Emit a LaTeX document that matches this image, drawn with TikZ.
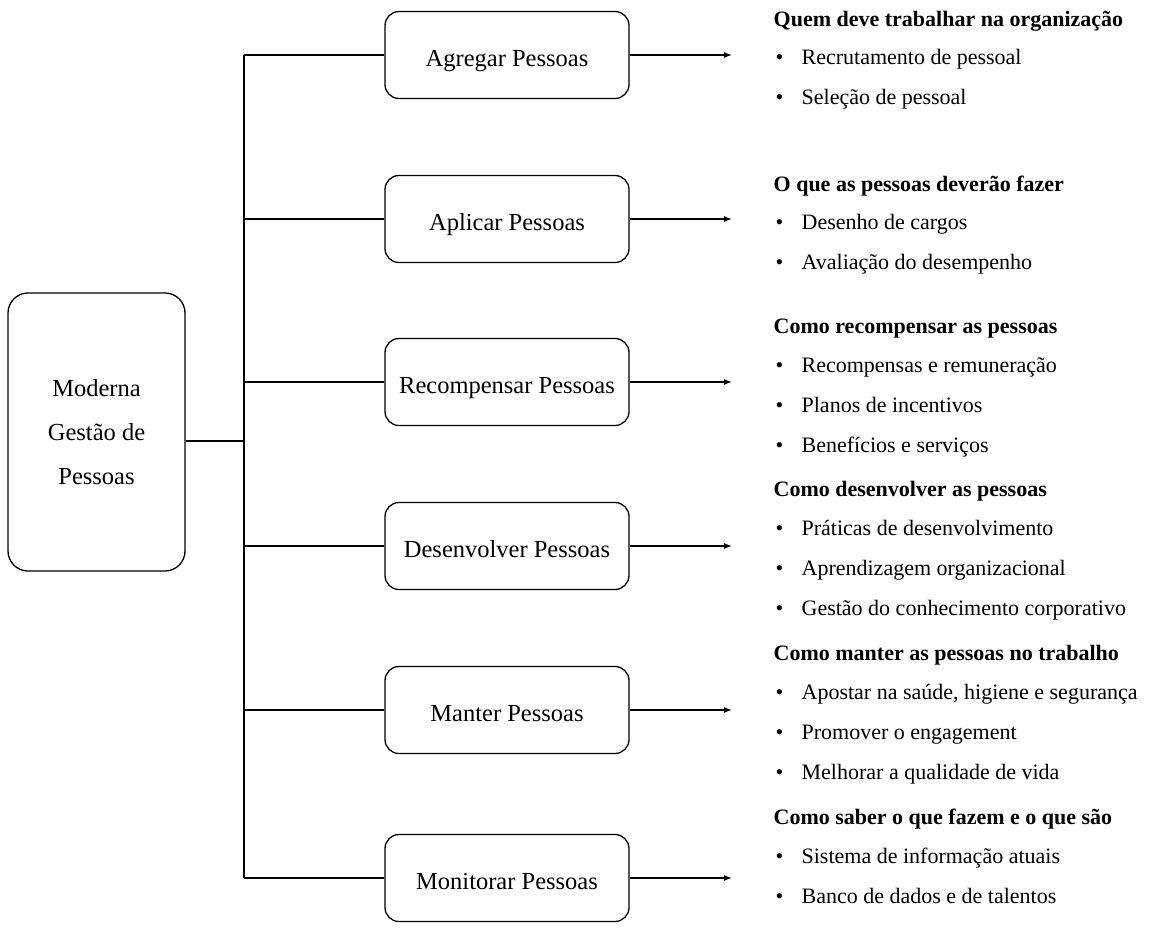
\documentclass[tikz,border=0pt]{standalone}
\usepackage{fontspec}
\setmainfont{Liberation Serif}
\usetikzlibrary{arrows.meta}
\begin{document}
\begin{tikzpicture}[x=1pt, y=-1pt, >={Latex[length=8pt,width=6pt]}, line width=1.3pt, line join=round,
	bigbox/.style={draw, rounded corners=20pt, minimum width=177pt, minimum height=278pt, align=center, text depth=0pt, font=\fontsize{24.5}{44}\selectfont},
	areabox/.style={draw, rounded corners=14pt, minimum width=244pt, minimum height=87pt, text height=23pt, text depth=0pt, font=\fontsize{24.5}{28}\selectfont},
	head/.style={anchor=base west, inner sep=0pt, font=\fontsize{22}{26}\selectfont\bfseries},
	item/.style={anchor=base west, inner sep=0pt, font=\fontsize{22}{26}\selectfont, execute at begin node={\makebox[26pt][l]{•}}}]
	\useasboundingbox (0,0) rectangle (1151,927);
	% caixa principal e tronco
	\node[bigbox] (mgp) at (96.5,432) {Moderna\\Gestão de\\Pessoas};
	\coordinate (trunk) at (244,441);
	\draw (mgp.east |- trunk) -- (trunk);
	% processos
	\foreach \i/\y/\txt in {1/55/Agregar,2/219/Aplicar,3/382/Recompensar,4/546/Desenvolver,5/710/Manter,6/878/Monitorar}{
		\node[areabox] (a\i) at (507,\y) {\txt\ Pessoas};
		\coordinate (t\i) at (732,\y);
		\draw (a\i.west -| trunk) -- (a\i.west);
		\draw[->] (a\i.east) -- (t\i);
	}
	\draw (a1.west -| trunk) -- (a6.west -| trunk);
	% descricoes
	\node[head] (h1) at (773,26) {Quem deve trabalhar na organização};
	\node[item] (i11) at (775,64) {Recrutamento de pessoal};
	\node[item] (i12) at (775,104) {Seleção de pessoal};
	\node[head] (h2) at (773,191) {O que as pessoas deverão fazer};
	\node[item] (i21) at (775,229) {Desenho de cargos};
	\node[item] (i22) at (775,269) {Avaliação do desempenho};
	\node[head] (h3) at (773,333) {Como recompensar as pessoas};
	\node[item] (i31) at (775,372) {Recompensas e remuneração};
	\node[item] (i32) at (775,412) {Planos de incentivos};
	\node[item] (i33) at (775,452) {Benefícios e serviços};
	\node[head] (h4) at (773,496) {Como desenvolver as pessoas};
	\node[item] (i41) at (775,535) {Práticas de desenvolvimento};
	\node[item] (i42) at (775,575) {Aprendizagem organizacional};
	\node[item] (i43) at (775,615) {Gestão do conhecimento corporativo};
	\node[head] (h5) at (773,660) {Como manter as pessoas no trabalho};
	\node[item] (i51) at (775,699) {Apostar na saúde, higiene e segurança};
	\node[item] (i52) at (775,739) {Promover o engagement};
	\node[item] (i53) at (775,779) {Melhorar a qualidade de vida};
	\node[head] (h6) at (773,824) {Como saber o que fazem e o que são};
	\node[item] (i61) at (775,863) {Sistema de informação atuais};
	\node[item] (i62) at (775,903) {Banco de dados e de talentos};
\end{tikzpicture}
\end{document}
